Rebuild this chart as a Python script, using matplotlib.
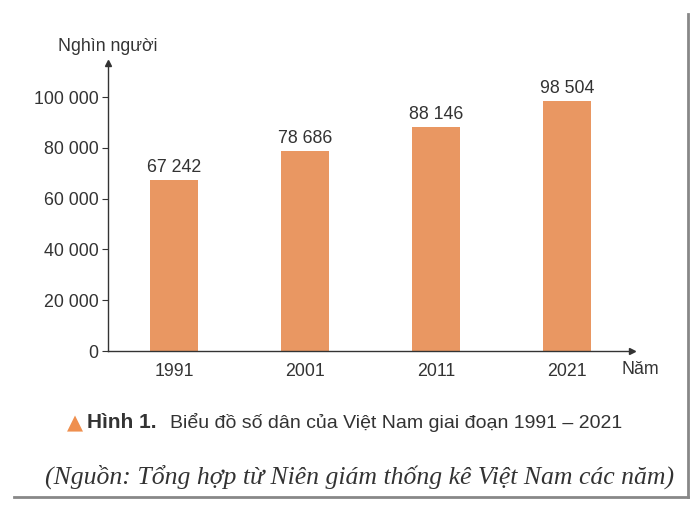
import matplotlib.pyplot as plt
from matplotlib.lines import Line2D

years = ['1991', '2001', '2011', '2021']
population = [67242, 78686, 88146, 98504]
value_labels = ['67 242', '78 686', '88 146', '98 504']
yticks = [0, 20000, 40000, 60000, 80000, 100000]
ytick_labels = ['0', '20 000', '40 000', '60 000', '80 000', '100 000']

BAR_COLOR = '#E99762'
TEXT_COLOR = '#333333'
FS = 12.8

plt.rcParams['font.family'] = ['Liberation Sans', 'DejaVu Sans']

W, H = 698, 508
fig = plt.figure(figsize=(W / 100, H / 100), dpi=100)

# axes placed in pixel terms: y axis at x=108, zero line at y=351
left, right, bottom, top = 108, 632, 351, 63
ax = fig.add_axes([left / W, 1 - bottom / H, (right - left) / W, (bottom - top) / H])

x = range(len(years))
ax.bar(x, population, width=0.36, color=BAR_COLOR, zorder=2)
for i, v in enumerate(population):
    ax.annotate(value_labels[i], (i, v), xytext=(0, 3), textcoords='offset points',
                ha='center', va='bottom', fontsize=FS, color=TEXT_COLOR)

ax.set_xlim(-0.504, 3.496)
ax.set_ylim(0, 113400)
ax.set_xticks(list(x))
ax.set_xticklabels(years)
ax.set_yticks(yticks)
ax.set_yticklabels(ytick_labels)
ax.tick_params(axis='x', length=0, pad=9, labelsize=FS, colors=TEXT_COLOR)
ax.tick_params(axis='y', length=4, width=0.8, pad=3, labelsize=FS,
               colors=TEXT_COLOR, direction='out')

for s in ['top', 'right']:
    ax.spines[s].set_visible(False)
for s in ['left', 'bottom']:
    ax.spines[s].set_color(TEXT_COLOR)
    ax.spines[s].set_linewidth(1.0)

# arrow heads at the axis ends
ax.plot([1], [0], marker='>', color=TEXT_COLOR, markersize=5,
        transform=ax.transAxes, clip_on=False)
ax.plot([0], [1], marker='^', color=TEXT_COLOR, markersize=5,
        transform=ax.transAxes, clip_on=False)

fig.text(108 / W, 1 - 46 / H, 'Nghìn người', ha='center', va='center',
         fontsize=FS, color=TEXT_COLOR)
fig.text(640 / W, 1 - 370 / H, 'Năm', ha='center', va='center',
         fontsize=FS, color=TEXT_COLOR)

# caption
fig.text(75 / W, 1 - 423 / H, '▲', ha='center', va='center', fontsize=15,
         color='#EF8F4E', family='DejaVu Sans')
fig.text(87 / W, 1 - 423 / H, 'Hình 1.', ha='left', va='center', fontsize=15,
         fontweight='bold', color='#333333')
fig.text(170 / W, 1 - 423 / H, 'Biểu đồ số dân của Việt Nam giai đoạn 1991 – 2021',
         ha='left', va='center', fontsize=14, color='#333333')
fig.text(360 / W, 1 - 477 / H, '(Nguồn: Tổng hợp từ Niên giám thống kê Việt Nam các năm)',
         ha='center', va='center', fontsize=18.5, style='italic', color='#333333',
         family=['Liberation Serif', 'DejaVu Serif'])

# page frame shadow
fig.add_artist(Line2D([688 / W, 688 / W], [1 - 14 / H, 1 - 497 / H],
                      transform=fig.transFigure, color='#888888', linewidth=2))
fig.add_artist(Line2D([14 / W, 688 / W], [1 - 497 / H, 1 - 497 / H],
                      transform=fig.transFigure, color='#888888', linewidth=2))

fig.savefig('out.png', dpi=100)
